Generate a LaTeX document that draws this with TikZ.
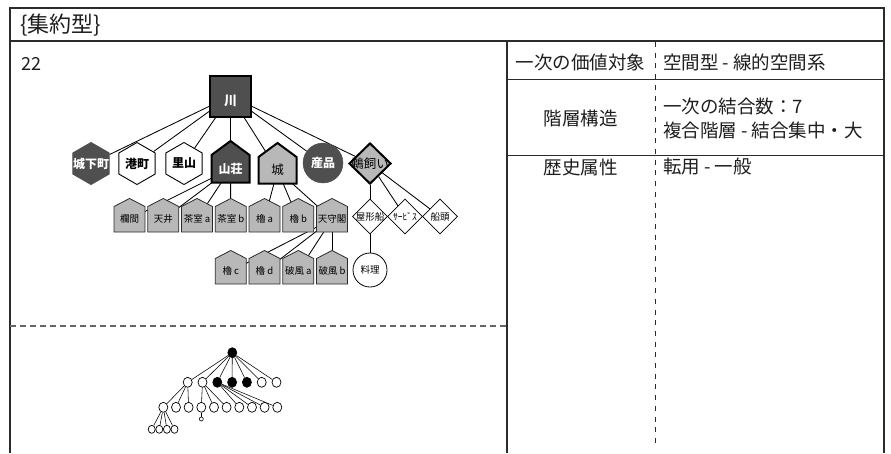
\documentclass[tikz,border=0pt]{standalone}
\usepackage{fontspec}
\setmainfont{Noto Sans CJK JP}
\usetikzlibrary{shapes.geometric,backgrounds}
\definecolor{dk}{HTML}{4F4F4F}
\definecolor{lt}{HTML}{B8B8B8}
\definecolor{ink}{HTML}{1E1E1E}
\definecolor{rulec}{HTML}{2B2B2B}
\newcommand\fsz[1]{\fontsize{#1}{#1}\selectfont}
% #1 path style, #2 text style, #3 name, #4 x, #5 ytop, #6 rise, #7 ybottom, #8 half width, #9 text
\newcommand\mkhouse[9]{%
  \path[#1] (#4-#8,#7) -- (#4+#8,#7) -- (#4+#8,#5+#6) -- (#4,#5) -- (#4-#8,#5+#6) -- cycle;
  \node[inner sep=0pt,#2] (#3) at (#4,{(#5+#6+#7)/2}) {#9};}
\begin{document}
\begin{tikzpicture}[x=1pt,y=-1pt,
  edge/.style={draw=black,line width=0.85pt},
  sedge/.style={draw=black,line width=0.55pt},
  hex/.style={regular polygon,regular polygon sides=6,shape border rotate=30,minimum size=42pt,inner sep=0pt,line width=0.9pt},
  lab/.style={font=\fsz{12}\bfseries},
  rowhouse/.style={fill=lt,draw=rulec,line width=0.8pt},
  rowtext/.style={font=\fsz{9.5},text=black},
  dia/.style={diamond,aspect=1,inner sep=0pt,minimum width=35pt,minimum height=35pt,fill=white,draw=black,line width=0.8pt,font=\fsz{9.5}},
  tn/.style={ellipse,inner sep=0pt,minimum width=9pt,minimum height=10pt,draw=black,fill=white,line width=0.7pt},
  tb/.style={tn,fill=black},
  tm/.style={tn,minimum width=7pt,minimum height=8pt},
  cell/.style={font=\fsz{18.5},text=ink,inner sep=0pt},
  rowline/.style={draw=rulec,line width=1pt},
  frame/.style={draw=rulec,line width=2pt}]
\useasboundingbox (0,0) rectangle (891,453);
\begin{scope}[on background layer]
  \fill[white] (0,0) rectangle (891,453);
\end{scope}

% ---- frame and table ----
\draw[frame] (10,453) -- (10,8) -- (884,8) -- (884,453);
\draw[frame] (10,41) -- (884,41);
\draw[frame] (507,41) -- (507,453);
\draw[draw=black!60,line width=1.4pt,dash pattern=on 6pt off 4pt] (10,326) -- (507,326);
\draw[rowline] (507,79) -- (884,79);
\draw[rowline] (507,155) -- (884,155);
\draw[draw=rulec,line width=0.9pt,dash pattern=on 5pt off 5.7pt] (655,42) -- (655,448);

% ---- texts ----
\node[cell,font=\fsz{22},anchor=west] (title) at (20,25) {\{集約型\}};
\node[cell,font=\fsz{18},anchor=west] (num) at (21,63.5) {22};
\node[cell] (r1l) at (580.5,62) {一次の価値対象};
\node[cell,anchor=west] (r1r) at (663,62) {空間型 - 線的空間系};
\node[cell] (r2l) at (580.5,118) {階層構造};
\node[cell,anchor=west] (r2a) at (663,106) {一次の結合数：7};
\node[cell,anchor=west] (r2b) at (663,130) {複合階層 - 結合集中・大};
\node[cell] (r3l) at (580.5,167) {歴史属性};
\node[cell,anchor=west] (r3r) at (663,167) {転用 - 一般};

% ---- main tree ----
\node[rectangle,minimum size=41pt,inner sep=0pt,fill=dk,draw=black,line width=2pt,text=white,font=\fsz{13}\bfseries,text height=19pt,text depth=0pt] (kawa) at (230.5,96) {川};

\node[hex,fill=dk,draw=dk,text=white,lab] (joka) at (91,163.5) {\makebox[0pt]{城下町}};
\node[hex,fill=white,draw=black,lab] (minato) at (137,163.5) {\makebox[0pt]{港町}};
\node[hex,fill=white,draw=black,lab] (satoyama) at (184,163.5) {\makebox[0pt]{里山}};
\mkhouse{fill=dk,draw=black,line width=2pt}{text=white,lab}{sanso}{230.5}{141}{14}{182.5}{19}{山荘}
\mkhouse{fill=lt,draw=black,line width=2pt}{font=\fsz{12.5}}{shiro}{277.5}{143}{14}{183.5}{19}{城}
\node[circle,minimum size=40pt,inner sep=0pt,fill=dk,draw=dk,text=white,lab] (sanpin) at (323,163) {産品};
\node[diamond,aspect=1,minimum width=42pt,minimum height=41pt,inner sep=0pt,fill=lt,draw=black,line width=2pt,font=\fsz{12.5}] (ukai) at (370,163.5) {\makebox[0pt]{鵜飼い}};

\mkhouse{rowhouse}{rowtext}{ranma}{129.5}{198.5}{8}{232}{15.5}{欄間}
\mkhouse{rowhouse}{rowtext}{tenjo}{163.25}{198.5}{8}{232}{15.5}{天井}
\mkhouse{rowhouse}{rowtext}{chaa}{197}{198.5}{8}{232}{15.5}{茶室 a}
\mkhouse{rowhouse}{rowtext}{chab}{230.75}{198.5}{8}{232}{15.5}{茶室 b}
\mkhouse{rowhouse}{rowtext}{yaga}{264.5}{198.5}{8}{232}{15.5}{櫓 a}
\mkhouse{rowhouse}{rowtext}{yagb}{298.25}{198.5}{8}{232}{15.5}{櫓 b}
\mkhouse{rowhouse}{rowtext}{tenshu}{332}{198.5}{8}{232}{15.5}{天守閣}

\mkhouse{rowhouse}{rowtext}{yagc}{230.75}{250.5}{8}{284}{15.5}{櫓 c}
\mkhouse{rowhouse}{rowtext}{yagd}{264.5}{250.5}{8}{284}{15.5}{櫓 d}
\mkhouse{rowhouse}{rowtext}{hafa}{298.25}{250.5}{8}{284}{15.5}{破風 a}
\mkhouse{rowhouse}{rowtext}{hafb}{332}{250.5}{8}{284}{15.5}{破風 b}

\node[dia] (yakata) at (370,216.5) {\makebox[0pt]{屋形船}};
\node[dia] (service) at (405,216.5) {\makebox[0pt]{ｻｰﾋﾞｽ}};
\node[dia] (sendo) at (440,216.5) {\makebox[0pt]{船頭}};
\node[circle,minimum size=34pt,inner sep=0pt,fill=white,draw=black,line width=0.8pt,font=\fsz{9.5}] (ryori) at (370,270) {料理};

\begin{scope}[on background layer]
  \foreach \n in {joka,minato,satoyama,sanso,shiro,sanpin,ukai} \draw[edge] (kawa) -- (\n);
  \foreach \n in {ranma,tenjo,chaa,chab} \draw[edge] (sanso) -- (\n);
  \foreach \n in {yaga,yagb,tenshu} \draw[edge] (shiro) -- (\n);
  \foreach \n in {yagc,yagd,hafa,hafb} \draw[edge] (tenshu) -- (\n);
  \foreach \n in {yakata,service,sendo} \draw[edge] (ukai) -- (\n);
  \draw[edge] (yakata) -- (ryori);
\end{scope}

% ---- small tree ----
\node[tb] (t0) at (232.3,352.7) {};
\node[tn] (t1a) at (187.7,382.3) {};
\node[tn] (t1b) at (202.5,382.3) {};
\node[tb] (t1c) at (217.3,382.3) {};
\node[tb] (t1d) at (232.1,382.3) {};
\node[tb] (t1e) at (246.9,382.3) {};
\node[tn] (t1f) at (261.7,382.3) {};
\node[tn] (t1g) at (276.5,382.3) {};
\foreach \i/\x in {0/163.3,1/176,2/188.6,3/201.3,4/214,5/226.6,6/239.3,7/252,8/264.6,9/277.3}
  \node[tn] (t2-\i) at (\x,407.3) {};
\foreach \i/\x in {0/151.7,1/159.3,2/166.9,3/174.5}
  \node[tm] (t3-\i) at (\x,429.3) {};
\node[tn,minimum width=4pt,minimum height=4pt,line width=0.6pt] (t3x) at (201.3,419) {};
\begin{scope}[on background layer]
  \foreach \n in {t1a,t1b,t1c,t1d,t1e,t1f,t1g} \draw[sedge] (t0) -- (\n);
  \foreach \i in {0,1,2} \draw[sedge] (t1a) -- (t2-\i);
  \foreach \i in {3,4,5} \draw[sedge] (t1b) -- (t2-\i);
  \foreach \i in {6,7,8,9} \draw[sedge] (t1c) -- (t2-\i);
  \foreach \i in {0,1,2,3} \draw[sedge] (t2-0) -- (t3-\i);
  \draw[sedge] (t2-3) -- (t3x);
\end{scope}
\end{tikzpicture}
\end{document}
